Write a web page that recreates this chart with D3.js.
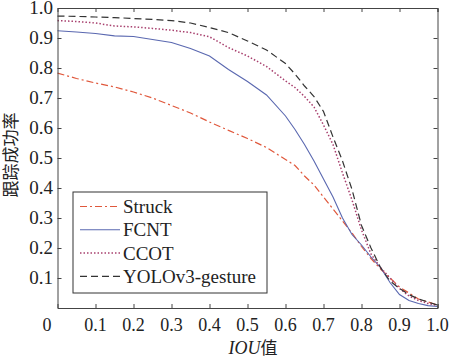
<!DOCTYPE html>
<html><head><meta charset="utf-8">
<script src="https://cdn.jsdelivr.net/npm/d3@7"></script>
<style>body{margin:0;background:#fff}svg{display:block}</style>
</head><body>
<svg id="c" width="450" height="358"></svg>
<script>
const iou = [0,0.05,0.1,0.15,0.2,0.25,0.3,0.35,0.4,0.45,0.5,0.55,0.6,0.625,0.65,0.675,0.7,0.725,0.75,0.775,0.8,0.825,0.85,0.875,0.9,0.925,0.95,0.975,1.0];
const struck = [0.783,0.765,0.75,0.737,0.72,0.70,0.675,0.65,0.62,0.592,0.565,0.535,0.495,0.475,0.44,0.41,0.37,0.33,0.29,0.25,0.205,0.165,0.13,0.10,0.07,0.05,0.03,0.02,0.01];
const fcnt = [0.924,0.92,0.915,0.907,0.905,0.895,0.885,0.865,0.84,0.795,0.755,0.71,0.64,0.595,0.545,0.49,0.43,0.37,0.30,0.245,0.21,0.17,0.135,0.085,0.045,0.025,0.015,0.008,0.005];
const ccot = [0.958,0.955,0.95,0.94,0.937,0.932,0.926,0.918,0.904,0.868,0.84,0.805,0.757,0.735,0.705,0.67,0.61,0.545,0.45,0.36,0.26,0.18,0.135,0.10,0.065,0.04,0.025,0.015,0.008];
const yolo = [0.973,0.972,0.97,0.968,0.965,0.962,0.958,0.95,0.935,0.918,0.89,0.86,0.815,0.78,0.74,0.705,0.655,0.57,0.49,0.395,0.275,0.2,0.135,0.09,0.065,0.045,0.03,0.02,0.01];
const seriesNames = ["Struck","FCNT","CCOT","YOLOv3-gesture"];
const xTicks = [0.1,0.2,0.3,0.4,0.5,0.6,0.7,0.8,0.9,1.0];
const yTicks = [0.1,0.2,0.3,0.4,0.5,0.6,0.7,0.8,0.9,1.0];

const styles = [
  {color:"#e0583c", dash:"7,3,2,3", w:1.2},
  {color:"#5a68b0", dash:null, w:1.1},
  {color:"#a8406e", dash:"1.5,2", w:1.5},
  {color:"#333333", dash:"7,4", w:1.2}
];
const data = [struck,fcnt,ccot,yolo];

const svg = d3.select("#c");
const L=57.5, R=437.5, T=8, B=308;
const x = d3.scaleLinear().domain([0,1]).range([L,R]);
const y = d3.scaleLinear().domain([0,1]).range([B,T]);
const font = "'Liberation Serif','Times New Roman',serif";

// curves
const line = d3.line().x((d,i)=>x(iou[i])).y(d=>y(d));
data.forEach((s,k)=>{
  svg.append("path").datum(s).attr("d",line)
    .attr("fill","none").attr("stroke",styles[k].color)
    .attr("stroke-width",styles[k].w)
    .attr("stroke-dasharray",styles[k].dash);
});

// axes with inner ticks
const axCol="#444";
const gb = svg.append("g").attr("transform",`translate(0,${B})`).call(d3.axisBottom(x).tickValues(xTicks).tickSize(-4).tickFormat(""));
const gt = svg.append("g").attr("transform",`translate(0,${T})`).call(d3.axisTop(x).tickValues(xTicks).tickSize(-4).tickFormat(""));
const gl = svg.append("g").attr("transform",`translate(${L},0)`).call(d3.axisLeft(y).tickValues(yTicks).tickSize(-4).tickFormat(""));
const gr = svg.append("g").attr("transform",`translate(${R},0)`).call(d3.axisRight(y).tickValues(yTicks).tickSize(-4).tickFormat(""));
[gb,gt,gl,gr].forEach(g=>{g.selectAll("path,line").attr("stroke",axCol).attr("stroke-width",1);});

// tick labels
svg.selectAll(".xl").data(xTicks).enter().append("text")
  .attr("x",d=>x(d)).attr("y",331).attr("text-anchor","middle")
  .attr("font-family",font).attr("font-size",18).attr("fill","#222")
  .text(d=>d3.format(".1f")(d));
svg.append("text").attr("x",47).attr("y",331).attr("text-anchor","middle")
  .attr("font-family",font).attr("font-size",18).attr("fill","#222").text("0");
svg.selectAll(".yl").data(yTicks).enter().append("text")
  .attr("x",53).attr("y",d=>y(d)+6).attr("text-anchor","end")
  .attr("font-family",font).attr("font-size",19).attr("fill","#222")
  .text(d=>d3.format(".1f")(d));

// axis titles
const xt = svg.append("text").attr("x",253).attr("y",354).attr("text-anchor","middle")
  .attr("font-family",font).attr("font-size",18).attr("fill","#222");
xt.append("tspan").attr("font-style","italic").text("IOU");
xt.append("tspan").attr("font-family","'Noto Sans CJK SC',serif").attr("font-size",17).text("值");
svg.append("text").attr("transform","translate(17,155) rotate(-90)")
  .attr("text-anchor","middle").attr("font-family","'Noto Sans CJK SC',serif")
  .attr("font-size",17).attr("fill","#222").text("跟踪成功率");

// legend
svg.append("rect").attr("x",73).attr("y",192).attr("width",194).attr("height",101)
  .attr("fill","#fff").attr("stroke","#333").attr("stroke-width",1);
seriesNames.forEach((n,k)=>{
  const ly = 206.5 + k*23.3;
  svg.append("line").attr("x1",80).attr("x2",120).attr("y1",ly).attr("y2",ly)
    .attr("stroke",styles[k].color).attr("stroke-width",styles[k].w)
    .attr("stroke-dasharray",styles[k].dash);
  svg.append("text").attr("x",123).attr("y",ly+6.5).attr("font-family",font)
    .attr("font-size",19).attr("fill","#222").text(n);
});
</script>
</body></html>
